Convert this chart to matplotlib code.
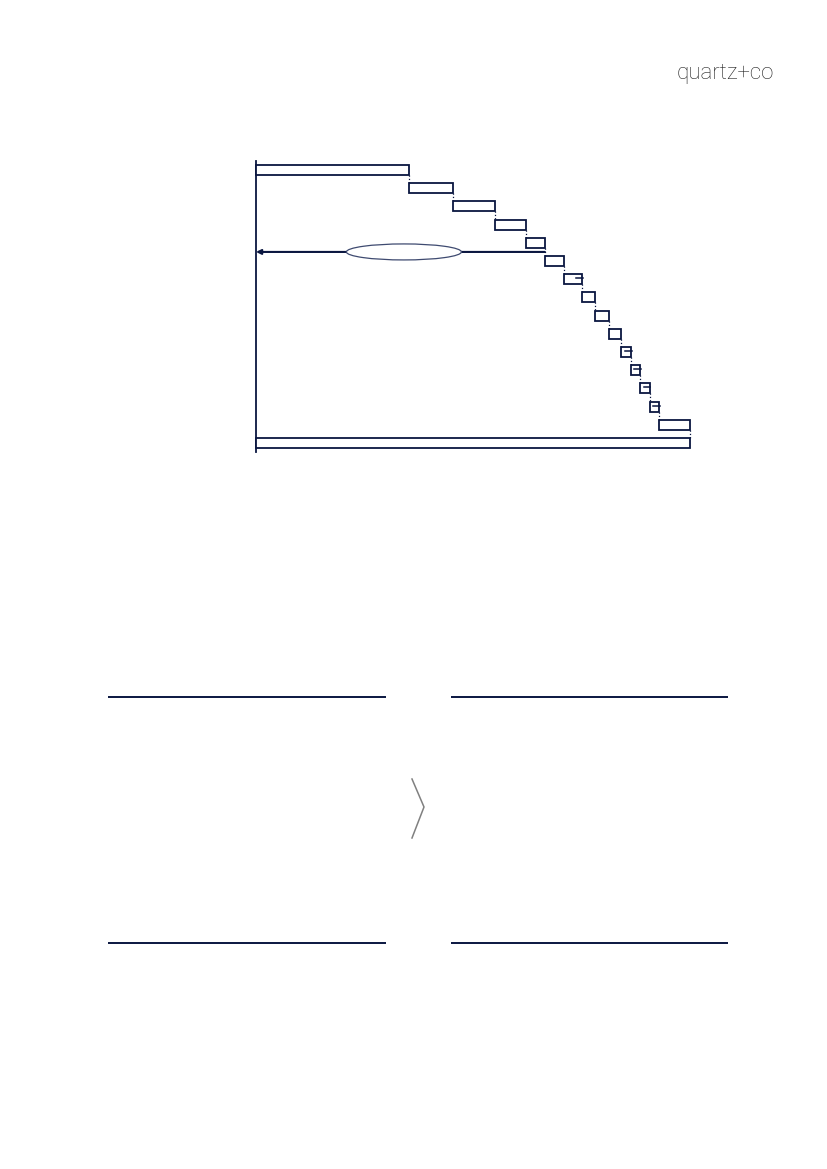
import numpy as np
import matplotlib.pyplot as plt
from matplotlib.patches import Ellipse

# stepped bars: first is the base, the rest add up; a total row is appended
step_values = [35.3, 10.1, 9.7, 7.1, 4.4, 4.4, 4.2, 3.0, 3.2, 2.8, 2.3, 2.1, 2.2, 2.1, 7.1]
marked_rows = [6, 10, 11, 12, 13]   # rows with a small tick at the bar end
arrow_after_row = 4                 # arrow sits between this row and the next

navy = '#0a1640'

total = sum(step_values)
starts = np.concatenate([[0], np.cumsum(step_values)[:-1]])
lefts = list(starts) + [0]
widths = step_values + [total]
rows = np.arange(len(widths))
bar_h = 0.55

fig = plt.figure(figsize=(8.27, 11.69), dpi=100)

# page decorations (pixel coordinates)
ov = fig.add_axes([0, 0, 1, 1], zorder=-1)
ov.set_xlim(0, 827)
ov.set_ylim(1169, 0)
ov.axis('off')
for y in (697, 943):
    ov.plot([108, 386], [y, y], color=navy, lw=1.4, solid_capstyle='butt')
    ov.plot([451, 728], [y, y], color=navy, lw=1.4, solid_capstyle='butt')
ov.plot([412, 424, 412], [779, 807, 838], color='#808080', lw=1.1)
ov.text(774, 79, 'quartz+co', ha='right', va='baseline', fontsize=16,
        family=['Roboto', 'DejaVu Sans'], fontweight='light', color='#222222')

# waterfall
ax = fig.add_axes([256 / 827, 1 - 452 / 1169, 433.7 / 827, 291 / 1169])
ax.barh(rows, widths, left=lefts, height=bar_h, color='white', edgecolor=navy,
        linewidth=1.3, zorder=3, clip_on=False)

# dotted connectors between bars
for i in range(len(widths) - 1):
    x = lefts[i] + widths[i]
    ax.plot([x, x], [i + bar_h / 2, i + 1 - bar_h / 2], linestyle=':', color=navy,
            lw=0.9, zorder=2, clip_on=False)

# small ticks at the end of some bars
for r in marked_rows:
    x = lefts[r] + widths[r]
    ax.plot([x - 1.4, x + 0.15], [r - 0.05, r - 0.05], color=navy, lw=1.1, zorder=4)

# arrow back to the axis with an empty ellipse label
ya = arrow_after_row + 0.5
xa = starts[arrow_after_row + 1]
ax.annotate('', xy=(0, ya), xytext=(xa, ya),
            arrowprops=dict(arrowstyle='-|>', color=navy, lw=1.5, mutation_scale=7,
                            shrinkA=0, shrinkB=0), zorder=4)
ax.add_patch(Ellipse((xa * 0.512, ya), 26.5, 0.88, facecolor='white',
                     edgecolor='#3e4a70', lw=0.9, zorder=5))

ax.set_xlim(0, total)
ax.set_ylim(len(widths) - 0.5, -0.5)
ax.set_xticks([])
ax.set_yticks([])
for side in ('top', 'right', 'bottom'):
    ax.spines[side].set_visible(False)
ax.spines['left'].set_color(navy)
ax.spines['left'].set_linewidth(1.3)
ax.patch.set_alpha(0)

fig.savefig('out.png', dpi=100)
